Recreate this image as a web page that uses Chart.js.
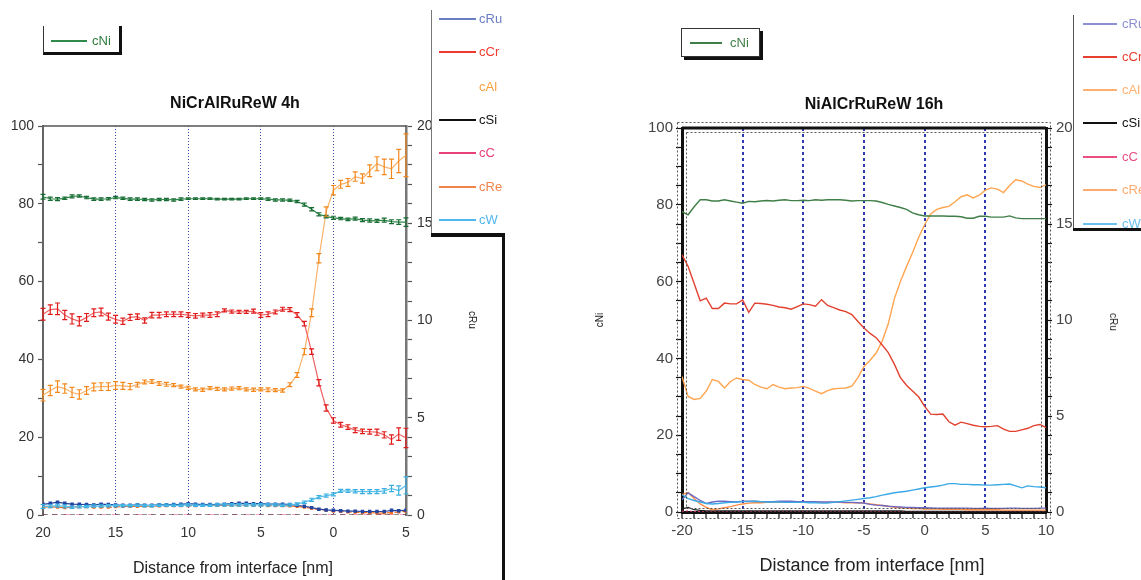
<!DOCTYPE html>
<html>
<head>
<meta charset="utf-8">
<script src="https://cdn.jsdelivr.net/npm/chart.js@4.4.1/dist/chart.umd.min.js"></script>
<style>
  body { margin: 0; background: #fff; }
  #wrap { position: relative; width: 1141px; height: 580px; overflow: hidden;
          font-family: 'Liberation Sans', Arial, Helvetica, sans-serif; }
  .pane { position: absolute; top: 0; }
  .t { position: absolute; white-space: nowrap; line-height: 1; }
  .title { font-weight: bold; font-size: 16px; color: #111; transform: translate(-50%, -50%); }
  .xtitle { color: #222; transform: translate(-50%, -50%); }
  .rotR { font-size: 10px; color: #222; transform: translate(-50%, -50%) rotate(90deg); }
  .rotL { font-size: 10px; color: #222; transform: translate(-50%, -50%) rotate(-90deg); }
  .ln { position: absolute; height: 0; border-top: 2px solid; }
  .box { position: absolute; box-sizing: border-box; }
</style>
</head>
<body>
<div id="wrap">
  <div class="pane" style="left:0;width:520px;height:580px"><canvas id="c4h"></canvas></div>
  <div class="pane" style="left:560px;width:581px;height:580px"><canvas id="c16h"></canvas></div>
</div>
<script>
// ---------- NiCrAlRuReW, 4 h : profile across the interface (nm) ----------
const dist4h = [20,19.5,19,18.5,18,17.5,17,16.5,16,15.5,15,14.5,14,13.5,13,12.5,12,11.5,11,10.5,
  10,9.5,9,8.5,8,7.5,7,6.5,6,5.5,5,4.5,4,3.5,3,2.5,2,1.5,1,0.5,0,-0.5,-1,-1.5,-2,-2.5,-3,-3.5,-4,-4.5,-5];

const ni4h = [81.8,81.3,81.2,81.4,81.9,82.0,81.6,81.2,81.2,81.3,81.6,81.4,81.2,81.2,81.1,81.0,81.1,81.1,81.0,81.2,
  81.3,81.3,81.3,81.3,81.2,81.2,81.2,81.2,81.3,81.3,81.3,81.2,81.0,81.0,80.9,80.6,79.8,78.6,77.3,76.7,
  76.4,76.2,76.0,76.2,75.8,75.7,75.6,75.8,75.4,75.3,75.3];
const niErr4h = [0.6,0.4,0.4,0.3,0.4,0.3,0.3,0.3,0.3,0.3,0.3,0.3,0.3,0.3,0.3,0.3,0.3,0.3,0.3,0.3,
  0.2,0.2,0.2,0.2,0.2,0.2,0.2,0.2,0.2,0.2,0.2,0.3,0.3,0.3,0.3,0.3,0.4,0.4,0.4,0.3,
  0.4,0.3,0.3,0.4,0.4,0.4,0.4,0.5,0.5,0.6,1.1];

const cr4h = [51.6,52.8,53.0,51.4,50.4,49.8,50.8,52.0,52.2,51.0,50.3,49.8,50.8,51.0,50.0,51.4,51.4,51.6,51.6,51.6,
  51.4,51.2,51.4,51.4,51.6,52.6,52.3,52.2,52.2,52.4,51.4,51.6,52.2,52.9,52.8,51.4,49.2,42.0,34.0,27.5,
  24.3,23.2,22.6,21.8,21.5,21.4,21.3,20.6,19.4,20.8,19.8];
const crErr4h = [1.5,1.2,1.5,1.2,1.3,1.2,1.0,1.0,1.0,0.9,1.0,0.8,0.8,0.7,0.7,0.7,0.7,0.6,0.6,0.6,
  0.6,0.6,0.5,0.6,0.6,0.4,0.4,0.4,0.4,0.5,0.6,0.6,0.5,0.5,0.5,0.6,0.6,0.7,0.8,0.8,
  0.7,0.6,0.6,0.6,0.6,0.6,0.8,0.8,1.2,1.6,2.5];

const al4h = [30.8,32.0,33.0,32.5,31.5,31.0,32.0,32.9,33.0,33.0,33.3,33.2,33.0,33.5,34.2,34.3,33.8,33.6,33.4,33.0,
  32.7,32.3,32.2,32.6,32.4,32.3,32.5,32.6,32.3,32.2,32.3,32.2,32.1,32.0,33.5,36.0,42.0,52.0,66.0,78.0,
  83.5,85.0,85.5,87.0,86.5,88.5,90.3,89.5,89.0,91.0,92.5];
const alErr4h = [1.5,1.3,1.5,1.2,1.3,1.2,1.0,1.0,1.0,1.0,1.0,0.9,0.8,0.6,0.5,0.5,0.5,0.5,0.4,0.4,
  0.4,0.4,0.4,0.4,0.4,0.4,0.4,0.4,0.4,0.4,0.4,0.5,0.4,0.4,0.5,0.6,0.8,1.0,1.2,1.2,
  1.2,1.0,1.0,1.2,1.2,1.5,1.8,2.0,2.5,3.0,5.5];

const w4h = [2.2,2.3,2.4,2.2,2.0,2.1,2.2,2.3,2.3,2.4,2.4,2.4,2.4,2.5,2.4,2.4,2.5,2.5,2.5,2.5,
  2.6,2.5,2.5,2.5,2.6,2.6,2.6,2.6,2.6,2.6,2.6,2.6,2.6,2.5,2.6,2.8,3.3,3.9,4.6,5.0,
  5.3,6.2,6.2,6.1,6.0,6.0,6.0,6.2,6.8,6.3,7.6];
const wErr4h = [0.5,0.4,0.4,0.4,0.3,0.3,0.3,0.3,0.3,0.3,0.3,0.3,0.3,0.3,0.3,0.3,0.3,0.3,0.3,0.3,
  0.3,0.3,0.3,0.3,0.3,0.3,0.3,0.3,0.3,0.3,0.3,0.3,0.3,0.3,0.3,0.3,0.3,0.4,0.4,0.4,
  0.4,0.4,0.4,0.4,0.5,0.5,0.5,0.6,0.8,1.2,2.2];

// Ru is read on the right-hand axis (0-20)
const ru4h = [0.55,0.6,0.66,0.6,0.56,0.55,0.54,0.52,0.56,0.54,0.52,0.5,0.5,0.52,0.5,0.5,0.52,0.52,0.54,0.55,
  0.58,0.56,0.54,0.54,0.54,0.56,0.58,0.6,0.6,0.58,0.58,0.56,0.56,0.56,0.54,0.5,0.45,0.38,0.3,0.26,
  0.24,0.22,0.2,0.2,0.18,0.18,0.18,0.18,0.24,0.22,0.24];

const re4h = [2.0,2.1,2.0,1.9,2.0,2.1,2.1,2.0,2.0,2.0,2.1,2.2,2.2,2.2,2.3,2.3,2.3,2.4,2.4,2.4,
  2.4,2.4,2.5,2.5,2.5,2.5,2.5,2.5,2.5,2.5,2.5,2.4,2.4,2.4,2.3,2.2,2.0,1.7,1.4,1.2,
  1.0,0.9,0.8,0.7,0.6,0.6,0.5,0.5,0.6,0.8,0.9];

const si4h = [0,0,0,0,0,0,0,0,0,0,0,0,0,0,0,0,0,0,0,0,0,0,0,0,0,0,0,0,0,0,0,0,0,0,0,0,0,0,0,0,0,0,0,0,0,0,0,0,0,0,0];
const c4h  = [0,0,0,0,0,0,0,0,0,0,0,0,0,0,0,0,0,0,0,0,0,0,0,0,0,0,0,0,0,0,0,0,0,0,0,0,0,0,0,0,0,0,0,0,0,0,0,0,0,0,0];

// ---------- NiAlCrRuReW, 16 h ----------
const dist16h = [-20,-19.5,-19,-18.5,-18,-17.5,-17,-16.5,-16,-15.5,-15,-14.5,-14,-13.5,-13,-12.5,-12,-11.5,-11,-10.5,
  -10,-9.5,-9,-8.5,-8,-7.5,-7,-6.5,-6,-5.5,-5,-4.5,-4,-3.5,-3,-2.5,-2,-1.5,-1,-0.5,
  0,0.5,1,1.5,2,2.5,3,3.5,4,4.5,5,5.5,6,6.5,7,7.5,8,8.5,9,9.5,10];

const ni16h = [78.2,77.4,79.5,81.3,81.3,81.0,81.0,81.3,81.0,80.7,80.4,80.9,80.8,81.0,81.1,81.0,81.2,81.3,81.1,81.1,
  81.2,81.1,81.3,81.2,81.3,81.3,81.3,81.2,81.0,81.1,81.1,81.1,81.0,80.6,80.1,79.7,79.3,78.8,77.9,77.4,
  77.1,77.1,77.1,77.1,77.0,77.0,76.9,76.5,76.5,77.0,77.0,76.8,76.8,76.8,77.1,76.6,76.4,76.4,76.4,76.4,76.4];

const cr16h = [67.0,64.0,59.5,55.0,55.7,53.0,53.0,54.4,54.2,54.2,55.2,52.0,54.4,54.3,54.1,53.8,53.4,53.2,52.8,53.5,
  54.2,54.0,53.6,55.3,53.8,53.2,52.6,52.2,51.4,49.6,47.9,46.5,45.4,43.5,41.5,38.5,35.0,33.0,31.5,30.0,
  27.5,25.5,25.4,25.5,23.5,22.6,23.4,23.0,22.6,22.3,22.2,22.3,22.5,21.6,21.0,21.0,21.4,21.8,22.5,22.8,22.0];

const al16h = [35.3,30.1,29.3,29.6,31.5,34.5,34.0,32.3,34.0,34.9,34.5,34.3,33.2,32.5,32.1,33.2,32.5,32.1,32.3,32.4,
  32.7,32.2,31.5,30.8,31.6,32.1,32.2,32.3,32.8,35.0,37.9,39.5,41.4,44.5,49.0,55.5,60.0,63.9,67.5,71.5,
  74.8,77.6,78.8,79.3,79.6,80.8,82.1,82.6,81.8,82.5,83.8,84.4,84.1,83.2,85.0,86.5,86.2,85.4,84.8,84.5,85.2];

const ru16h = [0.64,1.0,0.8,0.6,0.44,0.52,0.56,0.56,0.54,0.52,0.56,0.56,0.56,0.54,0.54,0.54,0.56,0.56,0.56,0.54,
  0.54,0.54,0.54,0.52,0.52,0.52,0.52,0.5,0.5,0.48,0.46,0.4,0.36,0.34,0.3,0.28,0.26,0.24,0.24,0.22,
  0.22,0.21,0.2,0.2,0.2,0.2,0.2,0.2,0.19,0.19,0.2,0.19,0.19,0.19,0.2,0.2,0.19,0.19,0.19,0.2,0.2];

const w16h = [4.5,3.5,3.0,2.6,2.2,2.1,2.2,2.4,2.5,2.6,2.7,2.7,2.8,2.7,2.6,2.6,2.6,2.5,2.5,2.5,
  2.5,2.4,2.4,2.3,2.3,2.5,2.7,2.9,3.1,3.3,3.5,3.7,4.0,4.4,4.7,5.0,5.2,5.4,5.7,6.0,
  6.3,6.5,6.7,7.0,7.4,7.4,7.2,7.2,7.1,7.1,7.0,7.0,7.1,7.2,7.3,6.8,6.3,6.8,6.6,6.5,6.3];

const re16h = [4.5,5.1,3.5,2.1,1.2,0.6,0.8,1.1,1.4,1.8,2.1,2.3,2.4,2.4,2.5,2.5,2.5,2.5,2.5,2.5,
  2.5,2.5,2.5,2.5,2.5,2.5,2.5,2.4,2.4,2.4,2.3,2.1,1.9,1.7,1.5,1.2,1.1,1.0,0.9,0.9,
  0.8,0.8,0.8,0.7,0.7,0.7,0.7,0.6,0.6,0.6,0.6,0.6,0.6,0.5,0.5,0.5,0.5,0.5,0.5,0.5,0.5];

const si16h = [0.8,1.2,0.6,0.4,0.3,0.3,0.3,0.3,0.3,0.3,0.3,0.3,0.3,0.3,0.3,0.3,0.3,0.3,0.3,0.3,
  0.3,0.3,0.3,0.3,0.3,0.3,0.3,0.3,0.3,0.3,0.3,0.3,0.3,0.3,0.3,0.3,0.3,0.2,0.2,0.2,
  0.2,0.2,0.2,0.2,0.2,0.2,0.2,0.2,0.2,0.2,0.2,0.2,0.2,0.2,0.2,0.2,0.2,0.2,0.2,0.2,0.2];
const c16h = [0.2,0.3,0.1,0.1,0.1,0.1,0.1,0.1,0.1,0.1,0.1,0.1,0.1,0.1,0.1,0.1,0.1,0.1,0.1,0.1,
  0.1,0.1,0.1,0.1,0.1,0.1,0.1,0.1,0.1,0.1,0.1,0.1,0.1,0.1,0.1,0.1,0.1,0.1,0.1,0.1,
  0.1,0.1,0.1,0.1,0.1,0.1,0.1,0.1,0.1,0.1,0.1,0.1,0.1,0.1,0.1,0.1,0.1,0.1,0.1,0.1,0.1];

// axis tick labels and legend entries
const xTicks4h = [20, 15, 10, 5, 0, -5];
const xGuides4h = [15, 10, 5, 0];
const xGuides16h = [-15, -10, -5, 0, 5];
const legendNames = ['cRu', 'cCr', 'cAl', 'cSi', 'cC', 'cRe', 'cW'];
const titles = ['NiCrAlRuReW  4h', 'NiAlCrRuReW  16h'];
const xTitle = 'Distance from interface [nm]';

// ---------- styles ----------
const FONT = "'Liberation Sans', Arial, Helvetica, sans-serif";
Chart.defaults.font.family = FONT;
const col4h = { ni:'#2f8a4c', niE:'#176a32', cr:'#ef6464', crE:'#e01a1a', al:'#f9b46c', alE:'#f2881c',
  w:'#58c0ea', wE:'#3aaee0', ru:'#2444a0', re:'#f06a20', si:'#222', c:'#e8408a' };
const col16h = { ni:'#3f7f47', cr:'#e2412f', al:'#ffa550', ru:'#6b6bc4', w:'#3ba9e6', re:'#ff8d45', si:'#222', c:'#e8407a' };
const legCol4h = ['#6a7cc4', '#f03a30', '#f9a040', '#111', '#e8407a', '#f0844a', '#4fb6ee'];
const legLine4h = ['#6a7cc4', '#f03a30', 'rgba(0,0,0,0)', '#111', '#e8407a', '#f0844a', '#4fb6ee'];
const legCol16h = ['#8c90d0', '#e84030', '#ffb070', '#111', '#ea4f80', '#ffaa70', '#6cc0f0'];

function pts(xs, ys) { return xs.map((x, i) => ({ x, y: ys[i] })); }
function line(label, xs, ys, color, extra) {
  return Object.assign({ label, data: pts(xs, ys), borderColor: color, backgroundColor: color,
    borderWidth: 1.2, pointRadius: 0, tension: 0, yAxisID: 'y' }, extra || {});
}

// vertical error bars, drawn through the chart's own scales
const errorBars = {
  id: 'errorBars',
  afterDatasetsDraw(chart) {
    const ctx = chart.ctx;
    chart.data.datasets.forEach((ds, i) => {
      if (!ds.errors) return;
      const meta = chart.getDatasetMeta(i);
      const xs = chart.scales[meta.xAxisID], ys = chart.scales[meta.yAxisID];
      ctx.save();
      ctx.strokeStyle = ds.errorColor || ds.borderColor;
      ctx.lineWidth = 1.2;
      ctx.beginPath();
      ds.data.forEach((p, j) => {
        const e = ds.errors[j];
        const x = xs.getPixelForValue(p.x);
        const yLo = ys.getPixelForValue(p.y - e), yHi = ys.getPixelForValue(p.y + e);
        ctx.moveTo(x, yLo); ctx.lineTo(x, yHi);
        ctx.moveTo(x - 2.5, yLo); ctx.lineTo(x + 2.5, yLo);
        ctx.moveTo(x - 2.5, yHi); ctx.lineTo(x + 2.5, yHi);
      });
      ctx.stroke();
      ctx.restore();
    });
  }
};

// top edge of the 4h plot
const topEdge = {
  id: 'topEdge',
  afterDraw(chart) {
    const { ctx, chartArea: a } = chart;
    ctx.save();
    ctx.strokeStyle = '#555'; ctx.lineWidth = 1.5;
    ctx.beginPath(); ctx.moveTo(a.left, a.top); ctx.lineTo(a.right, a.top); ctx.stroke();
    ctx.restore();
  }
};

// heavy double frame of the 16h plot
const doubleFrame = {
  id: 'doubleFrame',
  afterDraw(chart) {
    const { ctx, chartArea: a } = chart;
    ctx.save();
    ctx.strokeStyle = '#111'; ctx.lineWidth = 3;
    ctx.beginPath(); ctx.moveTo(a.left, a.top); ctx.lineTo(a.right, a.top); ctx.stroke();
    ctx.lineWidth = 1; ctx.strokeStyle = '#555'; ctx.setLineDash([2, 2]);
    ctx.strokeRect(a.left - 4.5, a.top - 5.5, a.right - a.left + 9, a.bottom - a.top + 12);
    ctx.strokeRect(a.left + 4.5, a.top + 4.5, a.right - a.left - 9, a.bottom - a.top - 8);
    ctx.restore();
  }
};

// ---------- 4h chart ----------
new Chart(document.getElementById('c4h'), {
  type: 'line',
  data: { datasets: [
    line('cNi', dist4h, ni4h, col4h.ni, { errors: niErr4h, errorColor: col4h.niE }),
    line('cCr', dist4h, cr4h, col4h.cr, { errors: crErr4h, errorColor: col4h.crE }),
    line('cAl', dist4h, al4h, col4h.al, { errors: alErr4h, errorColor: col4h.alE }),
    line('cW', dist4h, w4h, col4h.w, { errors: wErr4h, errorColor: col4h.wE }),
    line('cRu', dist4h, ru4h, col4h.ru, { yAxisID: 'y1', pointRadius: 1.6, pointStyle: 'rect' }),
    line('cRe', dist4h, re4h, col4h.re, { pointRadius: 1.3, pointStyle: 'rect', borderDash: [5, 3] }),
    line('cSi', dist4h, si4h, col4h.si, { borderDash: [5, 4] }),
    line('cC', dist4h, c4h, col4h.c, { borderDash: [6, 6], borderDashOffset: 3 })
  ]},
  options: {
    responsive: true, maintainAspectRatio: false, animation: false, devicePixelRatio: 1,
    layout: { padding: { top: 126, left: 0, right: 0, bottom: 0 } },
    plugins: { legend: { display: false }, title: { display: false }, tooltip: { enabled: false } },
    scales: {
      x: {
        type: 'linear', min: -5, max: 20, reverse: true,
        afterBuildTicks: s => { s.ticks = xTicks4h.map(v => ({ value: v })); },
        ticks: { callback: v => String(Math.abs(v)), font: { size: 14 }, color: '#333', padding: 10, maxRotation: 0, autoSkip: false },
        grid: { drawOnChartArea: true, drawTicks: false, lineWidth: 1,
                color: c => xGuides4h.includes(c.tick && c.tick.value) ? '#3a48b0' : 'rgba(0,0,0,0)' },
        border: { display: false, dash: [1, 2] },
        afterFit: s => { s.height = 65; }
      },
      y: {
        position: 'left', min: 0, max: 100,
        ticks: { stepSize: 10, autoSkip: false, callback: v => (v % 20 === 0 ? String(v) : ''), font: { size: 14 }, color: '#333', padding: 4 },
        grid: { drawOnChartArea: false, tickLength: 5, tickColor: '#555', tickWidth: 1.2 },
        border: { color: '#666', width: 2 },
        afterFit: s => { s.width = 43; }
      },
      y1: {
        position: 'right', min: 0, max: 20,
        ticks: { stepSize: 1, autoSkip: false, callback: v => (v % 5 === 0 ? String(v) : ''), font: { size: 14 }, color: '#333', padding: 5 },
        grid: { drawOnChartArea: false, tickLength: 6, tickColor: '#555', tickWidth: 1.2 },
        border: { color: '#777', width: 2.5 },
        afterFit: s => { s.width = 114; }
      }
    }
  },
  plugins: [errorBars, topEdge]
});

// ---------- 16h chart ----------
new Chart(document.getElementById('c16h'), {
  type: 'line',
  data: { datasets: [
    line('cNi', dist16h, ni16h, col16h.ni, { borderWidth: 1.4 }),
    line('cCr', dist16h, cr16h, col16h.cr, { borderWidth: 1.4 }),
    line('cAl', dist16h, al16h, col16h.al, { borderWidth: 1.4 }),
    line('cW', dist16h, w16h, col16h.w, { borderWidth: 1.4 }),
    line('cRu', dist16h, ru16h, col16h.ru, { yAxisID: 'y1', borderWidth: 1.4 }),
    line('cRe', dist16h, re16h, col16h.re, { borderWidth: 1.4 }),
    line('cSi', dist16h, si16h, col16h.si, { borderWidth: 1.2 }),
    line('cC', dist16h, c16h, col16h.c, { borderWidth: 1, borderDash: [2, 2] })
  ]},
  options: {
    responsive: true, maintainAspectRatio: false, animation: false, devicePixelRatio: 1,
    layout: { padding: { top: 128, left: 0, right: 0, bottom: 0 } },
    plugins: { legend: { display: false }, title: { display: false }, tooltip: { enabled: false } },
    scales: {
      x: {
        type: 'linear', min: -20, max: 10,
        ticks: { stepSize: 1, autoSkip: false, maxRotation: 0, callback: v => (v % 5 === 0 ? String(v) : ''), font: { size: 15 }, color: '#444', padding: 4 },
        grid: { drawOnChartArea: true, drawTicks: true, tickLength: 6, tickWidth: 1.2, tickColor: '#111', lineWidth: 2,
                color: c => xGuides16h.includes(c.tick && c.tick.value) ? '#3038b0' : 'rgba(0,0,0,0)' },
        border: { color: '#111', width: 3, dash: [3, 3] },
        afterFit: s => { s.height = 68; }
      },
      y: {
        position: 'left', min: 0, max: 100,
        ticks: { stepSize: 5, autoSkip: false, callback: v => (v % 20 === 0 ? String(v) : ''), font: { size: 15 }, color: '#444', padding: 3 },
        grid: { drawOnChartArea: false, tickLength: 6, tickColor: '#111', tickWidth: 1.2 },
        border: { color: '#111', width: 3 },
        afterFit: s => { s.width = 122; }
      },
      y1: {
        position: 'right', min: 0, max: 20,
        ticks: { stepSize: 1, autoSkip: false, callback: v => (v % 5 === 0 ? String(v) : ''), font: { size: 15 }, color: '#444', padding: 4 },
        grid: { drawOnChartArea: false, tickLength: 6, tickColor: '#111', tickWidth: 1.2 },
        border: { color: '#111', width: 3 },
        afterFit: s => { s.width = 95; }
      }
    }
  },
  plugins: [doubleFrame]
});

// ---------- text and legend furniture ----------
const wrap = document.getElementById('wrap');
function el(cls, style, text) {
  const d = document.createElement('div');
  d.className = cls; d.setAttribute('style', style);
  if (text !== undefined) d.textContent = text;
  wrap.appendChild(d); return d;
}
function legendEntry(x1, x2, tx, y, name, lineColor, textColor) {
  el('ln', `left:${x1}px;top:${y - 1}px;width:${x2 - x1}px;border-top-color:${lineColor}`);
  el('t', `left:${tx}px;top:${y - 7}px;font-size:13px;color:${textColor}`, name);
}

// 4h
el('t title', 'left:235px;top:103px', titles[0]);
el('t xtitle', 'left:233px;top:568px;font-size:16px', xTitle);
el('t rotR', 'left:472px;top:320px', 'cRu');
el('box', 'left:43px;top:26px;width:79px;height:29px;border-left:1px solid #333;border-right:3px solid #111;border-bottom:3px solid #111');
legendEntry(51, 87, 92, 41, 'cNi', col4h.ni, '#2d7a3c');
el('box', 'left:431px;top:10px;width:1px;height:224px;background:#777');
el('box', 'left:431px;top:233px;width:74px;height:360px;border-top:4px solid #111;border-right:3px solid #111');
[19, 52, 87, 120, 153, 187, 220].forEach((y, i) =>
  legendEntry(439, 476, 479, y, legendNames[i], legLine4h[i], legCol4h[i]));

// 16h
el('t title', 'left:874px;top:104px', titles[1]);
el('t xtitle', 'left:872px;top:565px;font-size:18px', xTitle);
el('t rotL', 'left:600px;top:320px', 'cNi');
el('t rotR', 'left:1113px;top:322px', 'cRu');
el('box', 'left:681px;top:28px;width:79px;height:29px;border:1px solid #333;box-shadow:3px 3px 0 #111;background:#fff');
legendEntry(690, 722, 730, 43, 'cNi', col16h.ni, '#3f7f47');
el('box', 'left:1073px;top:15px;width:1px;height:214px;background:#555');
el('box', 'left:1073px;top:228px;width:80px;height:3px;background:#111');
[24, 57, 90, 123, 157, 190, 224].forEach((y, i) =>
  legendEntry(1083, 1117, 1122, y, legendNames[i], legCol16h[i], legCol16h[i]));
</script>
</body>
</html>
